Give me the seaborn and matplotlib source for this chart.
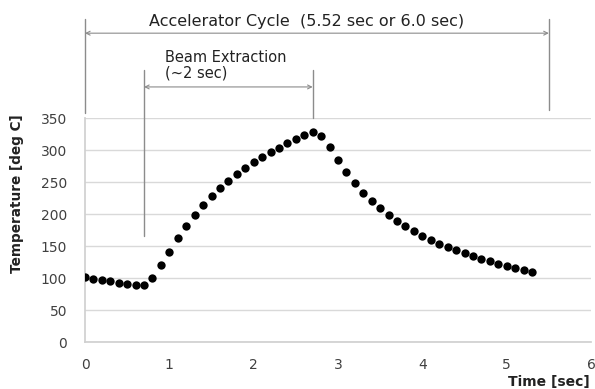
import matplotlib
matplotlib.use("Agg")
import matplotlib.pyplot as plt
import seaborn as sns
import pandas as pd

time_sec = [round(0.1 * i, 1) for i in range(54)]
temperature = [102.6, 99.5, 97.4, 95.8, 92.7, 90.6, 89.6, 90.1, 100.5, 120.3,
               141.7, 163.5, 182.3, 199.0, 214.6, 228.6, 240.6, 252.6, 263.0, 272.4,
               281.2, 289.6, 296.9, 304.2, 311.5, 317.7, 324.5, 328.1, 321.9, 304.7,
               285.4, 266.1, 249.0, 233.9, 220.8, 209.9, 199.0, 189.6, 181.8, 174.0,
               166.7, 159.9, 154.2, 149.0, 143.8, 139.1, 134.9, 130.7, 126.6, 122.9,
               119.3, 115.6, 112.5, 109.4]
y_ticks = [0, 50, 100, 150, 200, 250, 300, 350]
x_ticks = [0, 1, 2, 3, 4, 5, 6]
cycle_text = "Accelerator Cycle  (5.52 sec or 6.0 sec)"
beam_text_1 = "Beam Extraction"
beam_text_2 = "(~2 sec)"
cycle_span = [0.0, 5.5]
beam_span = [0.7, 2.7]

df = pd.DataFrame({"Time [sec]": time_sec, "Temperature [deg C]": temperature})

sns.set_theme(style="white")
plt.rcParams['font.family'] = ['DejaVu Sans']

fig = plt.figure(figsize=(5.95, 3.89), dpi=100)
ax = fig.add_axes([85 / 595, 1 - 342.3 / 389, (591 - 85) / 595, (342.3 - 118.3) / 389])

sns.scatterplot(data=df, x="Time [sec]", y="Temperature [deg C]", ax=ax,
                color="black", s=36, edgecolor="black", linewidth=0, zorder=3)

ax.set_xlim(0, 6)
ax.set_ylim(0, 350)
ax.set_xticks(x_ticks)
ax.set_yticks(y_ticks)
ax.yaxis.grid(True, color="#d9d9d9", lw=1)
ax.set_axisbelow(True)
for s in ["top", "right"]:
    ax.spines[s].set_visible(False)
ax.spines["left"].set_color("#d0d0d0")
ax.spines["bottom"].set_color("#d0d0d0")
ax.tick_params(axis="y", labelsize=10, colors="#404040", length=4,
               color="#d9d9d9", direction="out", pad=9)
ax.tick_params(axis="x", labelsize=10, colors="#404040", length=4,
               color="#d0d0d0", direction="out", pad=7)

ax.set_xlabel("")
ax.set_ylabel("")
fig.text(590 / 595, 1 - 381.5 / 389, "Time [sec]", ha="right", va="center",
         fontsize=10, fontweight="bold", color="#222222")
fig.text(17 / 595, 1 - 194 / 389, "Temperature [deg C]", ha="center", va="center",
         rotation=90, fontsize=9.8, fontweight="bold", color="#222222")

grey = "#8c8c8c"
# accelerator cycle
ax.plot([cycle_span[0]] * 2, [358, 505], color=grey, lw=1, clip_on=False)
ax.plot([cycle_span[1]] * 2, [363, 505], color=grey, lw=1, clip_on=False)
ax.annotate("", xy=(cycle_span[1], 483), xytext=(cycle_span[0], 483),
            arrowprops=dict(arrowstyle="<->", color=grey, lw=0.8,
                            shrinkA=0, shrinkB=0, mutation_scale=7),
            annotation_clip=False)
ax.text(2.63, 494.5, cycle_text, ha="center", va="baseline", fontsize=11.5,
        color="#222222", clip_on=False)
# beam extraction
ax.plot([beam_span[0]] * 2, [166, 425], color=grey, lw=1, clip_on=False)
ax.plot([beam_span[1]] * 2, [350, 425], color=grey, lw=1, clip_on=False)
ax.annotate("", xy=(beam_span[1], 399), xytext=(beam_span[0], 399),
            arrowprops=dict(arrowstyle="<->", color=grey, lw=0.8,
                            shrinkA=0, shrinkB=0, mutation_scale=7),
            annotation_clip=False)
ax.text(0.95, 437.5, beam_text_1, ha="left", va="baseline", fontsize=10.5,
        color="#222222", clip_on=False)
ax.text(0.95, 413, beam_text_2, ha="left", va="baseline", fontsize=10.5,
        color="#222222", clip_on=False)

fig.savefig("out.png", dpi=100)
